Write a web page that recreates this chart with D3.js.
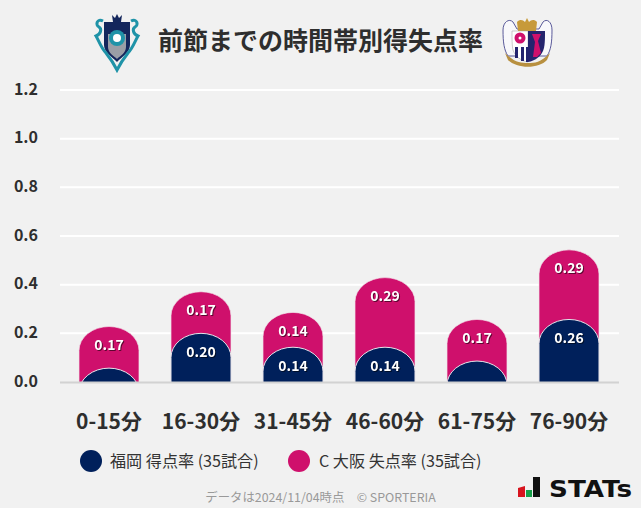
<!DOCTYPE html>
<html>
<head>
<meta charset="utf-8">
<title>前節までの時間帯別得失点率</title>
<script src="https://d3js.org/d3.v7.min.js"></script>
<style>
    html, body { margin: 0; padding: 0; background: #f1f1f1; }
    svg { display: block; }
    text { font-family: "Noto Sans CJK JP", "Noto Sans", sans-serif; }
    .tick text { font-weight: 700; fill: #2e2e2e; }
    .val { font-size: 14px; font-weight: 700; fill: #fff; text-anchor: middle; filter: drop-shadow(1px 1px 0.5px rgba(0,0,0,.55)); }
</style>
</head>
<body>
<svg width="641" height="508"></svg>
<script>
var categories = ["0-15分", "16-30分", "31-45分", "46-60分", "61-75分", "76-90分"];
var goalRate = [0.057, 0.2, 0.143, 0.143, 0.086, 0.257];
var concededRate = [0.171, 0.171, 0.143, 0.286, 0.171, 0.286];
var yTicks = [0, 0.2, 0.4, 0.6, 0.8, 1.0, 1.2];
var legendLabels = ["福岡 得点率 (35試合)", "C 大阪 失点率 (35試合)"];
var title = "前節までの時間帯別得失点率";
var footer = "データは2024/11/04時点　© SPORTERIA";
var navy = "#00205b", pink = "#cf106c";

var svg = d3.select("svg");
var margin = {left: 60, right: 22, top: 90, bottom: 126};
var width = 641 - margin.left - margin.right;
var baseY = 508 - margin.bottom;

var x = d3.scaleBand().domain(categories).range([63, 615]).paddingInner(0.348).paddingOuter(0.174);
var y = d3.scaleLinear().domain([0, 1.2]).range([baseY, margin.top]);

// grid + y labels
var yAxis = svg.append("g")
    .attr("transform", "translate(" + margin.left + ",-1)")
    .call(d3.axisLeft(y).tickValues(yTicks).tickFormat(d3.format(".1f")).tickSize(0).tickPadding(22));
yAxis.select(".domain").remove();
yAxis.selectAll("text").style("font-size", "16px");

svg.append("g").selectAll("line")
    .data(yTicks.slice(1))
  .enter().append("line")
    .attr("x1", margin.left).attr("x2", margin.left + width)
    .attr("y1", d => y(d)).attr("y2", d => y(d))
    .attr("stroke", "#fff").attr("stroke-width", 2);

// rounded top bars, running past the baseline and clipped there
svg.append("clipPath").attr("id", "plot").append("rect")
    .attr("x", 0).attr("y", 0).attr("width", 641).attr("height", baseY);

function barPath(cat, v) {
    var x0 = x(cat), w = x.bandwidth(), top = y(v), ry = 24;
    return "M" + x0 + "," + (baseY + ry) +
        "V" + (top + ry) +
        "A" + (w / 2) + "," + ry + " 0 0 1 " + (x0 + w) + "," + (top + ry) +
        "V" + (baseY + ry) + "Z";
}

var rows = categories.map((c, i) => ({cat: c, home: goalRate[i], away: concededRate[i]}));
var stack = d3.stack().keys(["home", "away"])(rows);

var bars = svg.append("g").attr("clip-path", "url(#plot)");
bars.selectAll(".away").data(stack[1]).enter().append("path")
    .attr("class", "away")
    .attr("d", d => barPath(d.data.cat, d[1]))
    .attr("fill", pink).attr("stroke", "#f0e4ea").attr("stroke-width", 0.7);
bars.selectAll(".home").data(stack[0]).enter().append("path")
    .attr("class", "home")
    .attr("d", d => barPath(d.data.cat, d[1]))
    .attr("fill", navy).attr("stroke", "#e4e4ea").attr("stroke-width", 1);

// baseline + x labels
var xAxis = svg.append("g")
    .attr("transform", "translate(0," + baseY + ")")
    .call(d3.axisBottom(x).tickSize(0).tickPadding(32));
xAxis.select(".domain").remove();
xAxis.selectAll("text").style("font-size", "21px");

svg.append("line")
    .attr("x1", margin.left).attr("x2", margin.left + width)
    .attr("y1", baseY + 0.5).attr("y2", baseY + 0.5)
    .attr("stroke", "#d2d2d2").attr("stroke-width", 2);

// value labels, small rates have none
var labels = svg.append("g");
stack.forEach(function(s) {
    labels.selectAll(null).data(s.filter(d => d[1] - d[0] >= 0.1)).enter().append("text")
        .attr("class", "val")
        .attr("x", d => x(d.data.cat) + x.bandwidth() / 2)
        .attr("y", d => y(d[1]) + 23.5)
        .text(d => d3.format(".2f")(d[1] - d[0]));
});

// title
svg.append("text").attr("x", 320.5).attr("y", 50)
    .attr("text-anchor", "middle")
    .style("font-size", "25px").style("font-weight", 700).attr("fill", "#2e2e2e")
    .text(title);

// legend
var legendX = [91, 299];
legendLabels.forEach(function(t, i) {
    svg.append("circle").attr("cx", legendX[i]).attr("cy", 461).attr("r", 11)
        .attr("fill", i ? pink : navy);
    svg.append("text").attr("x", legendX[i] + (i ? 20 : 19)).attr("y", 467)
        .style("font-size", "16.1px").attr("fill", "#333").text(t);
});

// footer
svg.append("text").attr("x", 320.5).attr("y", 502)
    .attr("text-anchor", "middle")
    .style("font-size", "12.4px").attr("fill", "#999").text(footer);

// STATs mark
var mark = svg.append("g").attr("transform", "translate(518,477)");
mark.append("path").attr("d", "M0,11L7,9V20H0Z").attr("fill", "#d7141e");
mark.append("path").attr("d", "M8,13h6v7h-6z").attr("fill", "#17a04a");
mark.append("path").attr("d", "M15,0h7v20h-7z").attr("fill", "#111");
svg.append("text").attr("x", 549).attr("y", 497)
    .style("font-family", "'DejaVu Sans'").style("font-size", "23px").style("font-weight", 700)
    .attr("fill", "#111").attr("textLength", 83).attr("lengthAdjust", "spacingAndGlyphs").text("STATs");

// club crests, rough shapes
var teal = "#1f93a8", dark = "#14265c";
var fk = svg.append("g").attr("transform", "translate(117,42)");
fk.append("path").attr("d", "M-4,-20L-5,-27L-2,-24L0,-28L2,-24L5,-27L4,-20Z").attr("fill", dark);
fk.append("path").attr("d", "M-13,-20H13V3C13,10 5,15 0,20C-5,15 -13,10 -13,3Z").attr("fill", dark);
fk.append("path").attr("d", "M-9,-8H9V5C9,11 3,14 0,17C-3,14 -9,11 -9,5Z").attr("fill", "#9a9ea6");
fk.append("circle").attr("cy", -4).attr("r", 8).attr("fill", teal);
fk.append("circle").attr("cy", -4).attr("r", 4).attr("fill", "#fff");
fk.append("path").attr("d", "M-14,-21C-20,-24 -22,-17 -18,-15C-15,-13 -16,-8 -21,-6C-18,-1 -16,6 -11,11C-7,16 -4,20 0,28C4,20 7,16 11,11C16,6 18,-1 21,-6C16,-8 15,-13 18,-15C22,-17 20,-24 14,-21")
    .attr("fill", "none").attr("stroke", teal).attr("stroke-width", 3);

var navyCz = "#24246e";
var cz = svg.append("g").attr("transform", "translate(527,42)");
cz.append("path").attr("d", "M-24,-12C-24,-20 -18,-24 -14,-20L-10,-13H12L16,-20C20,-24 25,-20 25,-12C25,0 24,8 20,14H-19C-23,8 -24,0 -24,-12Z")
    .attr("fill", "#f8f8fb").attr("stroke", "#5a5a9a").attr("stroke-width", 1);
cz.append("path").attr("d", "M-9,-11L-10,-20C-7,-23 -4,-22 -2,-20L0,-24L2,-20C4,-22 7,-23 10,-20L9,-11Z").attr("fill", "#c79a3a");
cz.append("path").attr("d", "M-15,-11H1V20C-6,19 -12,14 -14,8C-15,4 -15,-4 -15,-11Z").attr("fill", "#fff").attr("stroke", "#999").attr("stroke-width", 0.5);
cz.append("path").attr("d", "M-12,5h3v11h-3zM-6,5h3v14h-3zM-1,5h2v15h-2z").attr("fill", navyCz);
cz.append("circle").attr("cx", -7).attr("cy", -4).attr("r", 5.5).attr("fill", pink);
cz.append("circle").attr("cx", -7).attr("cy", -4).attr("r", 1.5).attr("fill", "#fff");
cz.append("path").attr("d", "M1,-11H18C18,-2 18,4 16,9C14,14 8,19 1,20Z").attr("fill", navyCz);
cz.append("path").attr("d", "M5,-8H14L11,-1L14,11L10,15H6L8,0Z").attr("fill", pink);
cz.append("path").attr("d", "M-22,11C-12,21 -6,21 1,21C8,21 13,21 23,11L20,18C12,27 -10,27 -19,18Z").attr("fill", "#b89040");
</script>
</body>
</html>
